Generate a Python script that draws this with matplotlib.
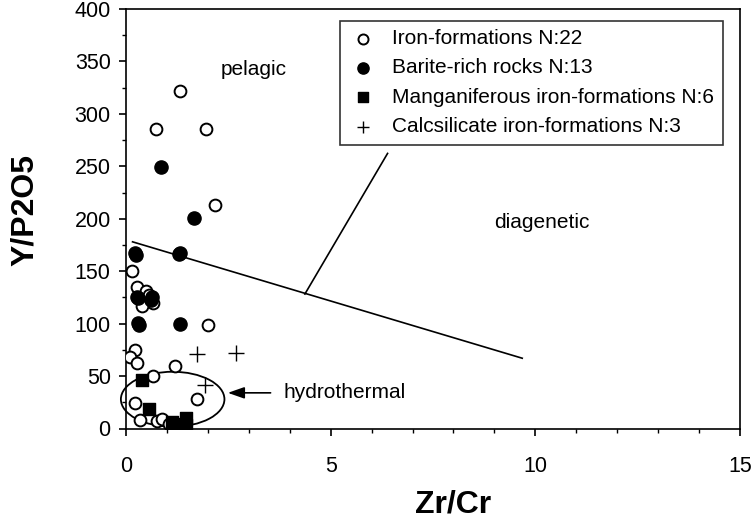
"""
Y/P2O5 vs Zr/Cr discrimination diagram
"""

import matplotlib
matplotlib.use('Agg')
import matplotlib.pyplot as plt
from matplotlib.patches import Ellipse
from matplotlib.ticker import MultipleLocator

# data
iron_x = [1.32, 0.73, 1.96, 2.18, 0.14, 0.26, 0.48, 0.67, 0.38, 2.01, 0.22,
          0.10, 0.26, 1.20, 0.65, 1.73, 0.22, 0.34, 0.75, 0.87, 0.55, 1.05]
iron_y = [322, 285.5, 285.5, 213, 150, 135, 131, 120, 117, 98.7, 75,
          68.4, 62.7, 59.6, 50, 27.8, 24.6, 8.1, 7.1, 8.8, 127, 4]

barite_x = [0.85, 1.67, 0.22, 1.32, 0.26, 0.63, 0.29, 1.32, 0.24, 0.30, 0.60,
            0.31, 1.30]
barite_y = [249, 200.4, 167, 167, 125.6, 125.6, 100.3, 99.6, 165, 124, 123,
            99, 166]

mn_x = [0.38, 0.55, 1.12, 1.47, 1.47, 1.15]
mn_y = [46, 19, 6.5, 10, 3.3, 4]

calc_x = [1.74, 2.69, 1.93]
calc_y = [70.7, 72.3, 41.5]

# field boundaries
bound_x = [0.16, 9.68]
bound_y = [178, 67]
split_x = [4.37, 6.39]
split_y = [128.2, 262.3]

labels = ['Iron-formations N:22', 'Barite-rich rocks N:13',
          'Manganiferous iron-formations N:6', 'Calcsilicate iron-formations N:3']

plt.rcParams['font.family'] = ['Liberation Sans', 'DejaVu Sans']

fig = plt.figure(figsize=(7.52, 5.23), dpi=100)
ax = fig.add_axes([126/752, 1 - 428.5/523, 614/752, 419.5/523])

ax.scatter(iron_x, iron_y, s=72, facecolors='white', edgecolors='black',
           linewidths=1.4, zorder=3, label=labels[0])
ax.scatter(barite_x, barite_y, s=90, c='black', marker='o', zorder=4,
           label=labels[1])
ax.scatter(mn_x, mn_y, s=85, c='black', marker='s', zorder=5, label=labels[2])
ax.scatter(calc_x, calc_y, s=120, c='black', marker='+', linewidths=1.0,
           zorder=5, label=labels[3])

ax.plot(bound_x, bound_y, 'k-', lw=1.2)
ax.plot(split_x, split_y, 'k-', lw=1.2)

ell = Ellipse((1.14, 27.9), 2.53, 52.4, fill=False, ec='black', lw=1.3,
              clip_on=False)
ax.add_patch(ell)
ax.annotate('', xy=(2.42, 34), xytext=(3.6, 34),
            arrowprops=dict(arrowstyle='-|>,head_length=1.0,head_width=0.35',
                            color='black', lw=1.2))
ax.text(3.84, 34, 'hydrothermal', fontsize=15, ha='left', va='center')
ax.text(3.12, 342, 'pelagic', fontsize=15, ha='center', va='center')
ax.text(10.15, 196, 'diagenetic', fontsize=15, ha='center', va='center')

ax.set_xlim(0, 15)
ax.set_ylim(0, 400)
ax.xaxis.set_major_locator(MultipleLocator(5))
ax.xaxis.set_minor_locator(MultipleLocator(1))
ax.yaxis.set_major_locator(MultipleLocator(50))
ax.yaxis.set_minor_locator(MultipleLocator(25))
ax.tick_params(which='major', direction='out', length=5, width=1.2,
               labelsize=15.5)
ax.tick_params(which='minor', direction='out', length=3, width=1.0)
ax.tick_params(axis='x', which='major', pad=15)
ax.tick_params(axis='y', which='major', pad=6)
for sp in ax.spines.values():
    sp.set_linewidth(1.2)

ax.set_xlabel('Zr/Cr', fontsize=23, fontweight='bold', va='center')
ax.xaxis.set_label_coords(0.533, -0.182)
ax.set_ylabel('Y/P2O5', fontsize=23, fontweight='bold', va='center')
ax.yaxis.set_label_coords(-0.165, 0.521)

leg = ax.legend(loc='upper right', bbox_to_anchor=(0.972, 0.972),
                borderaxespad=0, fontsize=15, frameon=True, fancybox=False,
                handlelength=1.4, handletextpad=0.7, labelspacing=0.5,
                borderpad=0.4, scatterpoints=1, markerscale=0.85)
leg.get_frame().set_edgecolor('black')
leg.get_frame().set_linewidth(1.2)

fig.savefig('out.png', dpi=100)
plt.close(fig)
